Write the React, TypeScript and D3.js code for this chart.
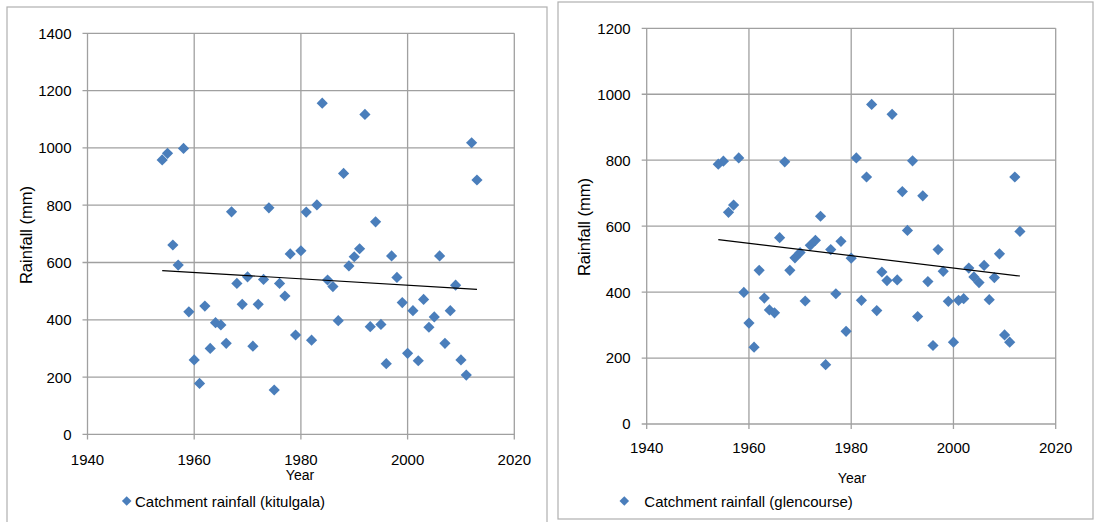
import React from "react";
import * as d3 from "d3";

const years = [
  1954, 1955, 1956, 1957, 1958, 1959, 1960, 1961, 1962, 1963,
  1964, 1965, 1966, 1967, 1968, 1969, 1970, 1971, 1972, 1973,
  1974, 1975, 1976, 1977, 1978, 1979, 1980, 1981, 1982, 1983,
  1984, 1985, 1986, 1987, 1988, 1989, 1990, 1991, 1992, 1993,
  1994, 1995, 1996, 1997, 1998, 1999, 2000, 2001, 2002, 2003,
  2004, 2005, 2006, 2007, 2008, 2009, 2010, 2011, 2012, 2013,
];

const kitulgala = [
  958, 981, 661, 591, 998, 428, 260, 178, 448, 300,
  390, 382, 318, 777, 527, 454, 550, 308, 454, 541,
  791, 155, 527, 483, 630, 347, 641, 776, 329, 801,
  1156, 539, 516, 397, 911, 588, 620, 648, 1117, 376,
  742, 384, 247, 623, 548, 460, 283, 432, 257, 471,
  374, 410, 623, 318, 432, 521, 260, 207, 1018, 888,
];

const glencourse = [
  788, 797, 642, 664, 807, 399, 306, 233, 466, 382,
  346, 337, 565, 795, 466, 504, 520, 373, 542, 557,
  630, 180, 529, 395, 554, 281, 503, 807, 375, 749,
  969, 344, 461, 435, 939, 437, 705, 587, 798, 326,
  692, 432, 238, 529, 463, 372, 248, 375, 380, 473,
  446, 429, 481, 377, 444, 516, 270, 248, 749, 584,
];

const xTicks = [1940, 1960, 1980, 2000, 2020];
const yTicksLeft = [0, 200, 400, 600, 800, 1000, 1200, 1400];
const yTicksRight = [0, 200, 400, 600, 800, 1000, 1200];

const FONT = "'Liberation Sans', Arial, sans-serif";
const BLUE = "#4a7ebb";
const GRID = "#a0a0a0";

function regression(xs: number[], ys: number[]) {
  const mx = d3.mean(xs) as number;
  const my = d3.mean(ys) as number;
  let num = 0;
  let den = 0;
  xs.forEach((x, i) => {
    num += (x - mx) * (ys[i] - my);
    den += (x - mx) * (x - mx);
  });
  const b = num / den;
  const a = my - b * mx;
  return (x: number) => a + b * x;
}

function diamond(cx: number, cy: number, r: number) {
  return `M${cx},${cy - r}L${cx + r},${cy}L${cx},${cy + r}L${cx - r},${cy}Z`;
}

type PanelProps = {
  values: number[];
  yTicks: number[];
  yMax: number;
  x0: number;
  x1: number;
  yTop: number;
  yBottom: number;
  legend: string;
  legendDiamondX: number;
  legendTextX: number;
  xLabelBaseline: number;
  yearX: number;
  yearBaseline: number;
  titleX: number;
  titleY: number;
  frame: [number, number, number, number];
};

function Panel(p: PanelProps) {
  const x = d3.scaleLinear().domain([1940, 2020]).range([p.x0, p.x1]);
  const y = d3.scaleLinear().domain([0, p.yMax]).range([p.yBottom, p.yTop]);
  const trend = regression(years, p.values);
  const tStart = years[0];
  const tEnd = years[years.length - 1];
  const [fx, fy, fw, fh] = p.frame;
  return (
    <g>
      <rect x={fx} y={fy} width={fw} height={fh} fill="#fff" stroke="#b0b0b0" strokeWidth={1.2} />
      {p.yTicks.map((t) => (
        <g key={"y" + t}>
          <line x1={x(1940) - 5} x2={p.x1} y1={y(t)} y2={y(t)} stroke={GRID} strokeWidth={1.3} />
          <text
            x={p.x0 - 16}
            y={y(t) + 5.4}
            textAnchor="end"
            fontFamily={FONT}
            fontSize={15}
            fill="#000"
          >
            {t}
          </text>
        </g>
      ))}
      {xTicks.map((t) => (
        <g key={"x" + t}>
          <line x1={x(t)} x2={x(t)} y1={p.yTop} y2={p.yBottom + 5} stroke={GRID} strokeWidth={1.3} />
          <text
            x={x(t)}
            y={p.xLabelBaseline}
            textAnchor="middle"
            fontFamily={FONT}
            fontSize={15}
            fill="#000"
          >
            {t}
          </text>
        </g>
      ))}
      {years.map((yr, i) => (
        <path key={"p" + yr} d={diamond(x(yr), y(p.values[i]), 5.6)} fill={BLUE} />
      ))}
      <line
        x1={x(tStart)}
        y1={y(trend(tStart))}
        x2={x(tEnd)}
        y2={y(trend(tEnd))}
        stroke="#000"
        strokeWidth={1.2}
      />
      <text
        x={p.yearX}
        y={p.yearBaseline}
        textAnchor="middle"
        fontFamily={FONT}
        fontSize={14}
        fill="#000"
      >
        Year
      </text>
      <text
        transform={`translate(${p.titleX},${p.titleY}) rotate(-90)`}
        textAnchor="middle"
        dominantBaseline="central"
        fontFamily={FONT}
        fontSize={16.5}
        fill="#000"
      >
        Rainfall (mm)
      </text>
      <path d={diamond(p.legendDiamondX, 501, 4.8)} fill={BLUE} />
      <text x={p.legendTextX} y={506.5} fontFamily={FONT} fontSize={15} fill="#000">
        {p.legend}
      </text>
    </g>
  );
}

export default function App() {
  return (
    <svg
      width={1096}
      height={522}
      style={{ position: "absolute", left: 0, top: 0, background: "#fff" }}
    >
      <rect x={0} y={0} width={1096} height={522} fill="#fff" />
      <Panel
        values={kitulgala}
        yTicks={yTicksLeft}
        yMax={1400}
        x0={87.5}
        x1={514.3}
        yTop={33.3}
        yBottom={434.4}
        legend="Catchment rainfall (kitulgala)"
        legendDiamondX={126.7}
        legendTextX={135}
        xLabelBaseline={464.5}
        yearX={300}
        yearBaseline={480}
        titleX={26}
        titleY={235}
        frame={[7, 7, 540, 530]}
      />
      <Panel
        values={glencourse}
        yTicks={yTicksRight}
        yMax={1200}
        x0={646.7}
        x1={1055.7}
        yTop={28.3}
        yBottom={424}
        legend="Catchment rainfall (glencourse)"
        legendDiamondX={624.3}
        legendTextX={644.3}
        xLabelBaseline={453}
        yearX={852}
        yearBaseline={482.5}
        titleX={584}
        titleY={227}
        frame={[558, 2, 535, 517]}
      />
    </svg>
  );
}
